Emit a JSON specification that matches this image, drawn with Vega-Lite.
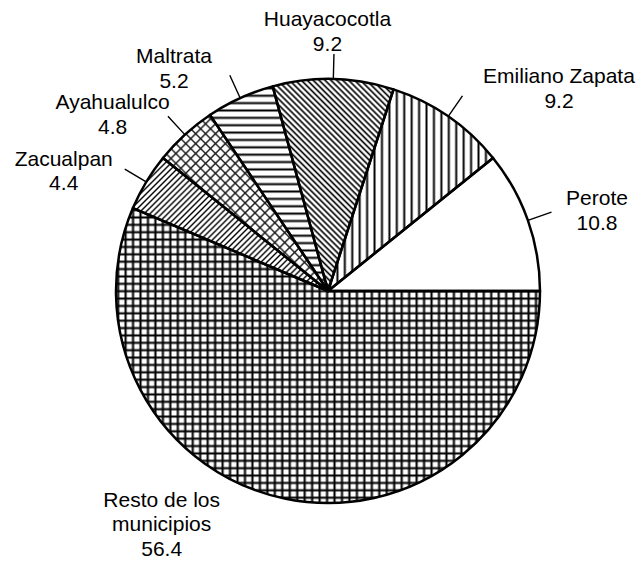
{
"$schema": "https://vega.github.io/schema/vega-lite/v6.json",
"width": 626, "height": 546,
"autosize": {"type": "none"},
"padding": {"left": 15, "top": 18, "right": 0, "bottom": 0},
"background": "white",
"config": {"view": {"stroke": null}},
"data": {"values": [
{"municipio": "Perote", "porcentaje": 10.8, "orden": 1, "etiqueta": "Perote\n10.8"},
{"municipio": "Emiliano Zapata", "porcentaje": 9.2, "orden": 2, "etiqueta": "Emiliano Zapata\n9.2"},
{"municipio": "Huayacocotla", "porcentaje": 9.2, "orden": 3, "etiqueta": "Huayacocotla\n9.2"},
{"municipio": "Maltrata", "porcentaje": 5.2, "orden": 4, "etiqueta": "Maltrata\n5.2"},
{"municipio": "Ayahualulco", "porcentaje": 4.8, "orden": 5, "etiqueta": "Ayahualulco\n4.8"},
{"municipio": "Zacualpan", "porcentaje": 4.4, "orden": 6, "etiqueta": "Zacualpan\n4.4"},
{"municipio": "Resto de los municipios", "porcentaje": 56.4, "orden": 7, "etiqueta": "Resto de los\nmunicipios\n56.4"}
]},
"encoding": {
"theta": {"field": "porcentaje", "type": "quantitative", "stack": true, "scale": {"range": [7.853981634, 1.570796327]}},
"order": {"field": "orden", "type": "quantitative"}
},
"layer": [
{"mark": {"type": "arc", "outerRadius": 212},
"encoding": {"fill": {"condition": [
{"test": "datum.municipio === 'Emiliano Zapata'", "value": {"gradient": "linear", "x1": 0, "y1": 0, "x2": 1, "y2": 0, "stops": [
{"offset":0,"color":"#fff"},{"offset":0.012,"color":"#000"},{"offset":0.024,"color":"#fff"},{"offset":0.045,"color":"#fff"},{"offset":0.057,"color":"#000"},{"offset":0.069,"color":"#fff"},{"offset":0.09,"color":"#fff"},{"offset":0.102,"color":"#000"},{"offset":0.114,"color":"#fff"},{"offset":0.135,"color":"#fff"},{"offset":0.147,"color":"#000"},{"offset":0.159,"color":"#fff"},{"offset":0.18,"color":"#fff"},{"offset":0.192,"color":"#000"},{"offset":0.204,"color":"#fff"},{"offset":0.225,"color":"#fff"},{"offset":0.237,"color":"#000"},{"offset":0.249,"color":"#fff"},{"offset":0.27,"color":"#fff"},{"offset":0.282,"color":"#000"},{"offset":0.294,"color":"#fff"},{"offset":0.315,"color":"#fff"},{"offset":0.327,"color":"#000"},{"offset":0.339,"color":"#fff"},{"offset":0.36,"color":"#fff"},{"offset":0.372,"color":"#000"},{"offset":0.384,"color":"#fff"},{"offset":0.405,"color":"#fff"},{"offset":0.417,"color":"#000"},{"offset":0.429,"color":"#fff"},{"offset":0.45,"color":"#fff"},{"offset":0.462,"color":"#000"},{"offset":0.474,"color":"#fff"},{"offset":0.495,"color":"#fff"},{"offset":0.507,"color":"#000"},{"offset":0.519,"color":"#fff"},{"offset":0.54,"color":"#fff"},{"offset":0.552,"color":"#000"},{"offset":0.564,"color":"#fff"},{"offset":0.585,"color":"#fff"},{"offset":0.597,"color":"#000"},{"offset":0.609,"color":"#fff"},{"offset":0.63,"color":"#fff"},{"offset":0.642,"color":"#000"},{"offset":0.654,"color":"#fff"},{"offset":0.675,"color":"#fff"},{"offset":0.687,"color":"#000"},{"offset":0.699,"color":"#fff"},{"offset":0.72,"color":"#fff"},{"offset":0.732,"color":"#000"},{"offset":0.744,"color":"#fff"},{"offset":0.765,"color":"#fff"},{"offset":0.777,"color":"#000"},{"offset":0.789,"color":"#fff"},{"offset":0.81,"color":"#fff"},{"offset":0.822,"color":"#000"},{"offset":0.834,"color":"#fff"},{"offset":0.855,"color":"#fff"},{"offset":0.867,"color":"#000"},{"offset":0.879,"color":"#fff"},{"offset":0.9,"color":"#fff"},{"offset":0.912,"color":"#000"},{"offset":0.924,"color":"#fff"},{"offset":0.945,"color":"#fff"},{"offset":0.957,"color":"#000"},{"offset":0.969,"color":"#fff"}]}},
{"test": "datum.municipio === 'Huayacocotla'", "value": {"gradient": "linear", "x1": 0, "y1": 1, "x2": 0.6762, "y2": -0.1848, "stops": [
{"offset":0,"color":"#fff"},{"offset":0.007,"color":"#000"},{"offset":0.014,"color":"#fff"},{"offset":0.0178,"color":"#fff"},{"offset":0.0248,"color":"#000"},{"offset":0.0318,"color":"#fff"},{"offset":0.0356,"color":"#fff"},{"offset":0.0426,"color":"#000"},{"offset":0.0496,"color":"#fff"},{"offset":0.0534,"color":"#fff"},{"offset":0.0604,"color":"#000"},{"offset":0.0674,"color":"#fff"},{"offset":0.0712,"color":"#fff"},{"offset":0.0782,"color":"#000"},{"offset":0.0852,"color":"#fff"},{"offset":0.089,"color":"#fff"},{"offset":0.096,"color":"#000"},{"offset":0.103,"color":"#fff"},{"offset":0.1068,"color":"#fff"},{"offset":0.1138,"color":"#000"},{"offset":0.1208,"color":"#fff"},{"offset":0.1246,"color":"#fff"},{"offset":0.1316,"color":"#000"},{"offset":0.1386,"color":"#fff"},{"offset":0.1424,"color":"#fff"},{"offset":0.1494,"color":"#000"},{"offset":0.1564,"color":"#fff"},{"offset":0.1602,"color":"#fff"},{"offset":0.1672,"color":"#000"},{"offset":0.1742,"color":"#fff"},{"offset":0.178,"color":"#fff"},{"offset":0.185,"color":"#000"},{"offset":0.192,"color":"#fff"},{"offset":0.1958,"color":"#fff"},{"offset":0.2028,"color":"#000"},{"offset":0.2098,"color":"#fff"},{"offset":0.2136,"color":"#fff"},{"offset":0.2206,"color":"#000"},{"offset":0.2276,"color":"#fff"},{"offset":0.2314,"color":"#fff"},{"offset":0.2384,"color":"#000"},{"offset":0.2454,"color":"#fff"},{"offset":0.2492,"color":"#fff"},{"offset":0.2562,"color":"#000"},{"offset":0.2632,"color":"#fff"},{"offset":0.267,"color":"#fff"},{"offset":0.274,"color":"#000"},{"offset":0.281,"color":"#fff"},{"offset":0.2848,"color":"#fff"},{"offset":0.2918,"color":"#000"},{"offset":0.2988,"color":"#fff"},{"offset":0.3026,"color":"#fff"},{"offset":0.3096,"color":"#000"},{"offset":0.3166,"color":"#fff"},{"offset":0.3204,"color":"#fff"},{"offset":0.3274,"color":"#000"},{"offset":0.3344,"color":"#fff"},{"offset":0.3382,"color":"#fff"},{"offset":0.3452,"color":"#000"},{"offset":0.3522,"color":"#fff"},{"offset":0.356,"color":"#fff"},{"offset":0.363,"color":"#000"},{"offset":0.37,"color":"#fff"},{"offset":0.3738,"color":"#fff"},{"offset":0.3808,"color":"#000"},{"offset":0.3878,"color":"#fff"},{"offset":0.3916,"color":"#fff"},{"offset":0.3986,"color":"#000"},{"offset":0.4056,"color":"#fff"},{"offset":0.4094,"color":"#fff"},{"offset":0.4164,"color":"#000"},{"offset":0.4234,"color":"#fff"},{"offset":0.4272,"color":"#fff"},{"offset":0.4342,"color":"#000"},{"offset":0.4412,"color":"#fff"},{"offset":0.445,"color":"#fff"},{"offset":0.452,"color":"#000"},{"offset":0.459,"color":"#fff"},{"offset":0.4628,"color":"#fff"},{"offset":0.4698,"color":"#000"},{"offset":0.4768,"color":"#fff"},{"offset":0.4806,"color":"#fff"},{"offset":0.4876,"color":"#000"},{"offset":0.4946,"color":"#fff"},{"offset":0.4984,"color":"#fff"},{"offset":0.5054,"color":"#000"},{"offset":0.5124,"color":"#fff"},{"offset":0.5162,"color":"#fff"},{"offset":0.5232,"color":"#000"},{"offset":0.5302,"color":"#fff"},{"offset":0.534,"color":"#fff"},{"offset":0.541,"color":"#000"},{"offset":0.548,"color":"#fff"},{"offset":0.5518,"color":"#fff"},{"offset":0.5588,"color":"#000"},{"offset":0.5658,"color":"#fff"},{"offset":0.5696,"color":"#fff"},{"offset":0.5766,"color":"#000"},{"offset":0.5836,"color":"#fff"},{"offset":0.5874,"color":"#fff"},{"offset":0.5944,"color":"#000"},{"offset":0.6014,"color":"#fff"},{"offset":0.6052,"color":"#fff"},{"offset":0.6122,"color":"#000"},{"offset":0.6192,"color":"#fff"},{"offset":0.623,"color":"#fff"},{"offset":0.63,"color":"#000"},{"offset":0.637,"color":"#fff"},{"offset":0.6408,"color":"#fff"},{"offset":0.6478,"color":"#000"},{"offset":0.6548,"color":"#fff"},{"offset":0.6586,"color":"#fff"},{"offset":0.6656,"color":"#000"},{"offset":0.6726,"color":"#fff"},{"offset":0.6764,"color":"#fff"},{"offset":0.6834,"color":"#000"},{"offset":0.6904,"color":"#fff"},{"offset":0.6942,"color":"#fff"},{"offset":0.7012,"color":"#000"},{"offset":0.7082,"color":"#fff"},{"offset":0.712,"color":"#fff"},{"offset":0.719,"color":"#000"},{"offset":0.726,"color":"#fff"},{"offset":0.7298,"color":"#fff"},{"offset":0.7368,"color":"#000"},{"offset":0.7438,"color":"#fff"},{"offset":0.7476,"color":"#fff"},{"offset":0.7546,"color":"#000"},{"offset":0.7616,"color":"#fff"},{"offset":0.7654,"color":"#fff"},{"offset":0.7724,"color":"#000"},{"offset":0.7794,"color":"#fff"},{"offset":0.7832,"color":"#fff"},{"offset":0.7902,"color":"#000"},{"offset":0.7972,"color":"#fff"},{"offset":0.801,"color":"#fff"},{"offset":0.808,"color":"#000"},{"offset":0.815,"color":"#fff"},{"offset":0.8188,"color":"#fff"},{"offset":0.8258,"color":"#000"},{"offset":0.8328,"color":"#fff"},{"offset":0.8366,"color":"#fff"},{"offset":0.8436,"color":"#000"},{"offset":0.8506,"color":"#fff"},{"offset":0.8544,"color":"#fff"},{"offset":0.8614,"color":"#000"},{"offset":0.8684,"color":"#fff"},{"offset":0.8722,"color":"#fff"},{"offset":0.8792,"color":"#000"},{"offset":0.8862,"color":"#fff"},{"offset":0.89,"color":"#fff"},{"offset":0.897,"color":"#000"},{"offset":0.904,"color":"#fff"},{"offset":0.9078,"color":"#fff"},{"offset":0.9148,"color":"#000"},{"offset":0.9218,"color":"#fff"},{"offset":0.9256,"color":"#fff"},{"offset":0.9326,"color":"#000"},{"offset":0.9396,"color":"#fff"},{"offset":0.9434,"color":"#fff"},{"offset":0.9504,"color":"#000"},{"offset":0.9574,"color":"#fff"},{"offset":0.9612,"color":"#fff"},{"offset":0.9682,"color":"#000"},{"offset":0.9752,"color":"#fff"},{"offset":0.979,"color":"#fff"},{"offset":0.986,"color":"#000"},{"offset":0.993,"color":"#fff"}]}},
{"test": "datum.municipio === 'Maltrata'", "value": {"gradient": "linear", "x1": 0, "y1": 0, "x2": 0, "y2": 1, "stops": [
{"offset":0,"color":"#fff"},{"offset":0.01,"color":"#000"},{"offset":0.02,"color":"#fff"},{"offset":0.036,"color":"#fff"},{"offset":0.046,"color":"#000"},{"offset":0.056,"color":"#fff"},{"offset":0.072,"color":"#fff"},{"offset":0.082,"color":"#000"},{"offset":0.092,"color":"#fff"},{"offset":0.108,"color":"#fff"},{"offset":0.118,"color":"#000"},{"offset":0.128,"color":"#fff"},{"offset":0.144,"color":"#fff"},{"offset":0.154,"color":"#000"},{"offset":0.164,"color":"#fff"},{"offset":0.18,"color":"#fff"},{"offset":0.19,"color":"#000"},{"offset":0.2,"color":"#fff"},{"offset":0.216,"color":"#fff"},{"offset":0.226,"color":"#000"},{"offset":0.236,"color":"#fff"},{"offset":0.252,"color":"#fff"},{"offset":0.262,"color":"#000"},{"offset":0.272,"color":"#fff"},{"offset":0.288,"color":"#fff"},{"offset":0.298,"color":"#000"},{"offset":0.308,"color":"#fff"},{"offset":0.324,"color":"#fff"},{"offset":0.334,"color":"#000"},{"offset":0.344,"color":"#fff"},{"offset":0.36,"color":"#fff"},{"offset":0.37,"color":"#000"},{"offset":0.38,"color":"#fff"},{"offset":0.396,"color":"#fff"},{"offset":0.406,"color":"#000"},{"offset":0.416,"color":"#fff"},{"offset":0.432,"color":"#fff"},{"offset":0.442,"color":"#000"},{"offset":0.452,"color":"#fff"},{"offset":0.468,"color":"#fff"},{"offset":0.478,"color":"#000"},{"offset":0.488,"color":"#fff"},{"offset":0.504,"color":"#fff"},{"offset":0.514,"color":"#000"},{"offset":0.524,"color":"#fff"},{"offset":0.54,"color":"#fff"},{"offset":0.55,"color":"#000"},{"offset":0.56,"color":"#fff"},{"offset":0.576,"color":"#fff"},{"offset":0.586,"color":"#000"},{"offset":0.596,"color":"#fff"},{"offset":0.612,"color":"#fff"},{"offset":0.622,"color":"#000"},{"offset":0.632,"color":"#fff"},{"offset":0.648,"color":"#fff"},{"offset":0.658,"color":"#000"},{"offset":0.668,"color":"#fff"},{"offset":0.684,"color":"#fff"},{"offset":0.694,"color":"#000"},{"offset":0.704,"color":"#fff"},{"offset":0.72,"color":"#fff"},{"offset":0.73,"color":"#000"},{"offset":0.74,"color":"#fff"},{"offset":0.756,"color":"#fff"},{"offset":0.766,"color":"#000"},{"offset":0.776,"color":"#fff"},{"offset":0.792,"color":"#fff"},{"offset":0.802,"color":"#000"},{"offset":0.812,"color":"#fff"},{"offset":0.828,"color":"#fff"},{"offset":0.838,"color":"#000"},{"offset":0.848,"color":"#fff"},{"offset":0.864,"color":"#fff"},{"offset":0.874,"color":"#000"},{"offset":0.884,"color":"#fff"},{"offset":0.9,"color":"#fff"},{"offset":0.91,"color":"#000"},{"offset":0.92,"color":"#fff"},{"offset":0.936,"color":"#fff"},{"offset":0.946,"color":"#000"},{"offset":0.956,"color":"#fff"},{"offset":0.972,"color":"#fff"},{"offset":0.982,"color":"#000"},{"offset":0.992,"color":"#fff"}]}},
{"test": "datum.municipio === 'Ayahualulco'", "value": {"gradient": "linear", "x1": 0, "y1": 1, "x2": 0.9664, "y2": -0.0314, "stops": [
{"offset":0,"color":"#fff"},{"offset":0.006,"color":"#222"},{"offset":0.012,"color":"#fff"},{"offset":0.029,"color":"#fff"},{"offset":0.035,"color":"#222"},{"offset":0.041,"color":"#fff"},{"offset":0.058,"color":"#fff"},{"offset":0.064,"color":"#222"},{"offset":0.07,"color":"#fff"},{"offset":0.087,"color":"#fff"},{"offset":0.093,"color":"#222"},{"offset":0.099,"color":"#fff"},{"offset":0.116,"color":"#fff"},{"offset":0.122,"color":"#222"},{"offset":0.128,"color":"#fff"},{"offset":0.145,"color":"#fff"},{"offset":0.151,"color":"#222"},{"offset":0.157,"color":"#fff"},{"offset":0.174,"color":"#fff"},{"offset":0.18,"color":"#222"},{"offset":0.186,"color":"#fff"},{"offset":0.203,"color":"#fff"},{"offset":0.209,"color":"#222"},{"offset":0.215,"color":"#fff"},{"offset":0.232,"color":"#fff"},{"offset":0.238,"color":"#222"},{"offset":0.244,"color":"#fff"},{"offset":0.261,"color":"#fff"},{"offset":0.267,"color":"#222"},{"offset":0.273,"color":"#fff"},{"offset":0.29,"color":"#fff"},{"offset":0.296,"color":"#222"},{"offset":0.302,"color":"#fff"},{"offset":0.319,"color":"#fff"},{"offset":0.325,"color":"#222"},{"offset":0.331,"color":"#fff"},{"offset":0.348,"color":"#fff"},{"offset":0.354,"color":"#222"},{"offset":0.36,"color":"#fff"},{"offset":0.377,"color":"#fff"},{"offset":0.383,"color":"#222"},{"offset":0.389,"color":"#fff"},{"offset":0.406,"color":"#fff"},{"offset":0.412,"color":"#222"},{"offset":0.418,"color":"#fff"},{"offset":0.435,"color":"#fff"},{"offset":0.441,"color":"#222"},{"offset":0.447,"color":"#fff"},{"offset":0.464,"color":"#fff"},{"offset":0.47,"color":"#222"},{"offset":0.476,"color":"#fff"},{"offset":0.493,"color":"#fff"},{"offset":0.499,"color":"#222"},{"offset":0.505,"color":"#fff"},{"offset":0.522,"color":"#fff"},{"offset":0.528,"color":"#222"},{"offset":0.534,"color":"#fff"},{"offset":0.551,"color":"#fff"},{"offset":0.557,"color":"#222"},{"offset":0.563,"color":"#fff"},{"offset":0.58,"color":"#fff"},{"offset":0.586,"color":"#222"},{"offset":0.592,"color":"#fff"},{"offset":0.609,"color":"#fff"},{"offset":0.615,"color":"#222"},{"offset":0.621,"color":"#fff"},{"offset":0.638,"color":"#fff"},{"offset":0.644,"color":"#222"},{"offset":0.65,"color":"#fff"},{"offset":0.667,"color":"#fff"},{"offset":0.673,"color":"#222"},{"offset":0.679,"color":"#fff"},{"offset":0.696,"color":"#fff"},{"offset":0.702,"color":"#222"},{"offset":0.708,"color":"#fff"},{"offset":0.725,"color":"#fff"},{"offset":0.731,"color":"#222"},{"offset":0.737,"color":"#fff"},{"offset":0.754,"color":"#fff"},{"offset":0.76,"color":"#222"},{"offset":0.766,"color":"#fff"},{"offset":0.783,"color":"#fff"},{"offset":0.789,"color":"#222"},{"offset":0.795,"color":"#fff"},{"offset":0.812,"color":"#fff"},{"offset":0.818,"color":"#222"},{"offset":0.824,"color":"#fff"},{"offset":0.841,"color":"#fff"},{"offset":0.847,"color":"#222"},{"offset":0.853,"color":"#fff"},{"offset":0.87,"color":"#fff"},{"offset":0.876,"color":"#222"},{"offset":0.882,"color":"#fff"},{"offset":0.899,"color":"#fff"},{"offset":0.905,"color":"#222"},{"offset":0.911,"color":"#fff"},{"offset":0.928,"color":"#fff"},{"offset":0.934,"color":"#222"},{"offset":0.94,"color":"#fff"},{"offset":0.957,"color":"#fff"},{"offset":0.963,"color":"#222"},{"offset":0.969,"color":"#fff"},{"offset":0.986,"color":"#fff"},{"offset":0.992,"color":"#222"},{"offset":0.998,"color":"#fff"}]}},
{"test": "datum.municipio === 'Zacualpan'", "value": {"gradient": "linear", "x1": 0, "y1": 0, "x2": 1.148, "y2": 0.7832, "stops": [
{"offset":0,"color":"#fff"},{"offset":0.006,"color":"#000"},{"offset":0.012,"color":"#fff"},{"offset":0.018,"color":"#fff"},{"offset":0.024,"color":"#000"},{"offset":0.03,"color":"#fff"},{"offset":0.036,"color":"#fff"},{"offset":0.042,"color":"#000"},{"offset":0.048,"color":"#fff"},{"offset":0.054,"color":"#fff"},{"offset":0.06,"color":"#000"},{"offset":0.066,"color":"#fff"},{"offset":0.072,"color":"#fff"},{"offset":0.078,"color":"#000"},{"offset":0.084,"color":"#fff"},{"offset":0.09,"color":"#fff"},{"offset":0.096,"color":"#000"},{"offset":0.102,"color":"#fff"},{"offset":0.108,"color":"#fff"},{"offset":0.114,"color":"#000"},{"offset":0.12,"color":"#fff"},{"offset":0.126,"color":"#fff"},{"offset":0.132,"color":"#000"},{"offset":0.138,"color":"#fff"},{"offset":0.144,"color":"#fff"},{"offset":0.15,"color":"#000"},{"offset":0.156,"color":"#fff"},{"offset":0.162,"color":"#fff"},{"offset":0.168,"color":"#000"},{"offset":0.174,"color":"#fff"},{"offset":0.18,"color":"#fff"},{"offset":0.186,"color":"#000"},{"offset":0.192,"color":"#fff"},{"offset":0.198,"color":"#fff"},{"offset":0.204,"color":"#000"},{"offset":0.21,"color":"#fff"},{"offset":0.216,"color":"#fff"},{"offset":0.222,"color":"#000"},{"offset":0.228,"color":"#fff"},{"offset":0.234,"color":"#fff"},{"offset":0.24,"color":"#000"},{"offset":0.246,"color":"#fff"},{"offset":0.252,"color":"#fff"},{"offset":0.258,"color":"#000"},{"offset":0.264,"color":"#fff"},{"offset":0.27,"color":"#fff"},{"offset":0.276,"color":"#000"},{"offset":0.282,"color":"#fff"},{"offset":0.288,"color":"#fff"},{"offset":0.294,"color":"#000"},{"offset":0.3,"color":"#fff"},{"offset":0.306,"color":"#fff"},{"offset":0.312,"color":"#000"},{"offset":0.318,"color":"#fff"},{"offset":0.324,"color":"#fff"},{"offset":0.33,"color":"#000"},{"offset":0.336,"color":"#fff"},{"offset":0.342,"color":"#fff"},{"offset":0.348,"color":"#000"},{"offset":0.354,"color":"#fff"},{"offset":0.36,"color":"#fff"},{"offset":0.366,"color":"#000"},{"offset":0.372,"color":"#fff"},{"offset":0.378,"color":"#fff"},{"offset":0.384,"color":"#000"},{"offset":0.39,"color":"#fff"},{"offset":0.396,"color":"#fff"},{"offset":0.402,"color":"#000"},{"offset":0.408,"color":"#fff"},{"offset":0.414,"color":"#fff"},{"offset":0.42,"color":"#000"},{"offset":0.426,"color":"#fff"},{"offset":0.432,"color":"#fff"},{"offset":0.438,"color":"#000"},{"offset":0.444,"color":"#fff"},{"offset":0.45,"color":"#fff"},{"offset":0.456,"color":"#000"},{"offset":0.462,"color":"#fff"},{"offset":0.468,"color":"#fff"},{"offset":0.474,"color":"#000"},{"offset":0.48,"color":"#fff"},{"offset":0.486,"color":"#fff"},{"offset":0.492,"color":"#000"},{"offset":0.498,"color":"#fff"},{"offset":0.504,"color":"#fff"},{"offset":0.51,"color":"#000"},{"offset":0.516,"color":"#fff"},{"offset":0.522,"color":"#fff"},{"offset":0.528,"color":"#000"},{"offset":0.534,"color":"#fff"},{"offset":0.54,"color":"#fff"},{"offset":0.546,"color":"#000"},{"offset":0.552,"color":"#fff"},{"offset":0.558,"color":"#fff"},{"offset":0.564,"color":"#000"},{"offset":0.57,"color":"#fff"},{"offset":0.576,"color":"#fff"},{"offset":0.582,"color":"#000"},{"offset":0.588,"color":"#fff"},{"offset":0.594,"color":"#fff"},{"offset":0.6,"color":"#000"},{"offset":0.606,"color":"#fff"},{"offset":0.612,"color":"#fff"},{"offset":0.618,"color":"#000"},{"offset":0.624,"color":"#fff"},{"offset":0.63,"color":"#fff"},{"offset":0.636,"color":"#000"},{"offset":0.642,"color":"#fff"},{"offset":0.648,"color":"#fff"},{"offset":0.654,"color":"#000"},{"offset":0.66,"color":"#fff"},{"offset":0.666,"color":"#fff"},{"offset":0.672,"color":"#000"},{"offset":0.678,"color":"#fff"},{"offset":0.684,"color":"#fff"},{"offset":0.69,"color":"#000"},{"offset":0.696,"color":"#fff"},{"offset":0.702,"color":"#fff"},{"offset":0.708,"color":"#000"},{"offset":0.714,"color":"#fff"},{"offset":0.72,"color":"#fff"},{"offset":0.726,"color":"#000"},{"offset":0.732,"color":"#fff"},{"offset":0.738,"color":"#fff"},{"offset":0.744,"color":"#000"},{"offset":0.75,"color":"#fff"},{"offset":0.756,"color":"#fff"},{"offset":0.762,"color":"#000"},{"offset":0.768,"color":"#fff"},{"offset":0.774,"color":"#fff"},{"offset":0.78,"color":"#000"},{"offset":0.786,"color":"#fff"},{"offset":0.792,"color":"#fff"},{"offset":0.798,"color":"#000"},{"offset":0.804,"color":"#fff"},{"offset":0.81,"color":"#fff"},{"offset":0.816,"color":"#000"},{"offset":0.822,"color":"#fff"},{"offset":0.828,"color":"#fff"},{"offset":0.834,"color":"#000"},{"offset":0.84,"color":"#fff"},{"offset":0.846,"color":"#fff"},{"offset":0.852,"color":"#000"},{"offset":0.858,"color":"#fff"},{"offset":0.864,"color":"#fff"},{"offset":0.87,"color":"#000"},{"offset":0.876,"color":"#fff"},{"offset":0.882,"color":"#fff"},{"offset":0.888,"color":"#000"},{"offset":0.894,"color":"#fff"},{"offset":0.9,"color":"#fff"},{"offset":0.906,"color":"#000"},{"offset":0.912,"color":"#fff"},{"offset":0.918,"color":"#fff"},{"offset":0.924,"color":"#000"},{"offset":0.93,"color":"#fff"},{"offset":0.936,"color":"#fff"},{"offset":0.942,"color":"#000"},{"offset":0.948,"color":"#fff"},{"offset":0.954,"color":"#fff"},{"offset":0.96,"color":"#000"},{"offset":0.966,"color":"#fff"},{"offset":0.972,"color":"#fff"},{"offset":0.978,"color":"#000"},{"offset":0.984,"color":"#fff"}]}},
{"test": "datum.municipio === 'Resto de los municipios'", "value": {"gradient": "linear", "x1": 0, "y1": 0, "x2": 1, "y2": 0, "stops": [
{"offset":0,"color":"#fff"},{"offset":0.005,"color":"#000"},{"offset":0.01,"color":"#fff"},{"offset":0.0176,"color":"#fff"},{"offset":0.0226,"color":"#000"},{"offset":0.0276,"color":"#fff"},{"offset":0.0352,"color":"#fff"},{"offset":0.0402,"color":"#000"},{"offset":0.0452,"color":"#fff"},{"offset":0.0528,"color":"#fff"},{"offset":0.0578,"color":"#000"},{"offset":0.0628,"color":"#fff"},{"offset":0.0704,"color":"#fff"},{"offset":0.0754,"color":"#000"},{"offset":0.0804,"color":"#fff"},{"offset":0.088,"color":"#fff"},{"offset":0.093,"color":"#000"},{"offset":0.098,"color":"#fff"},{"offset":0.1056,"color":"#fff"},{"offset":0.1106,"color":"#000"},{"offset":0.1156,"color":"#fff"},{"offset":0.1232,"color":"#fff"},{"offset":0.1282,"color":"#000"},{"offset":0.1332,"color":"#fff"},{"offset":0.1408,"color":"#fff"},{"offset":0.1458,"color":"#000"},{"offset":0.1508,"color":"#fff"},{"offset":0.1584,"color":"#fff"},{"offset":0.1634,"color":"#000"},{"offset":0.1684,"color":"#fff"},{"offset":0.176,"color":"#fff"},{"offset":0.181,"color":"#000"},{"offset":0.186,"color":"#fff"},{"offset":0.1936,"color":"#fff"},{"offset":0.1986,"color":"#000"},{"offset":0.2036,"color":"#fff"},{"offset":0.2112,"color":"#fff"},{"offset":0.2162,"color":"#000"},{"offset":0.2212,"color":"#fff"},{"offset":0.2288,"color":"#fff"},{"offset":0.2338,"color":"#000"},{"offset":0.2388,"color":"#fff"},{"offset":0.2464,"color":"#fff"},{"offset":0.2514,"color":"#000"},{"offset":0.2564,"color":"#fff"},{"offset":0.264,"color":"#fff"},{"offset":0.269,"color":"#000"},{"offset":0.274,"color":"#fff"},{"offset":0.2816,"color":"#fff"},{"offset":0.2866,"color":"#000"},{"offset":0.2916,"color":"#fff"},{"offset":0.2992,"color":"#fff"},{"offset":0.3042,"color":"#000"},{"offset":0.3092,"color":"#fff"},{"offset":0.3168,"color":"#fff"},{"offset":0.3218,"color":"#000"},{"offset":0.3268,"color":"#fff"},{"offset":0.3344,"color":"#fff"},{"offset":0.3394,"color":"#000"},{"offset":0.3444,"color":"#fff"},{"offset":0.352,"color":"#fff"},{"offset":0.357,"color":"#000"},{"offset":0.362,"color":"#fff"},{"offset":0.3696,"color":"#fff"},{"offset":0.3746,"color":"#000"},{"offset":0.3796,"color":"#fff"},{"offset":0.3872,"color":"#fff"},{"offset":0.3922,"color":"#000"},{"offset":0.3972,"color":"#fff"},{"offset":0.4048,"color":"#fff"},{"offset":0.4098,"color":"#000"},{"offset":0.4148,"color":"#fff"},{"offset":0.4224,"color":"#fff"},{"offset":0.4274,"color":"#000"},{"offset":0.4324,"color":"#fff"},{"offset":0.44,"color":"#fff"},{"offset":0.445,"color":"#000"},{"offset":0.45,"color":"#fff"},{"offset":0.4576,"color":"#fff"},{"offset":0.4626,"color":"#000"},{"offset":0.4676,"color":"#fff"},{"offset":0.4752,"color":"#fff"},{"offset":0.4802,"color":"#000"},{"offset":0.4852,"color":"#fff"},{"offset":0.4928,"color":"#fff"},{"offset":0.4978,"color":"#000"},{"offset":0.5028,"color":"#fff"},{"offset":0.5104,"color":"#fff"},{"offset":0.5154,"color":"#000"},{"offset":0.5204,"color":"#fff"},{"offset":0.528,"color":"#fff"},{"offset":0.533,"color":"#000"},{"offset":0.538,"color":"#fff"},{"offset":0.5456,"color":"#fff"},{"offset":0.5506,"color":"#000"},{"offset":0.5556,"color":"#fff"},{"offset":0.5632,"color":"#fff"},{"offset":0.5682,"color":"#000"},{"offset":0.5732,"color":"#fff"},{"offset":0.5808,"color":"#fff"},{"offset":0.5858,"color":"#000"},{"offset":0.5908,"color":"#fff"},{"offset":0.5984,"color":"#fff"},{"offset":0.6034,"color":"#000"},{"offset":0.6084,"color":"#fff"},{"offset":0.616,"color":"#fff"},{"offset":0.621,"color":"#000"},{"offset":0.626,"color":"#fff"},{"offset":0.6336,"color":"#fff"},{"offset":0.6386,"color":"#000"},{"offset":0.6436,"color":"#fff"},{"offset":0.6512,"color":"#fff"},{"offset":0.6562,"color":"#000"},{"offset":0.6612,"color":"#fff"},{"offset":0.6688,"color":"#fff"},{"offset":0.6738,"color":"#000"},{"offset":0.6788,"color":"#fff"},{"offset":0.6864,"color":"#fff"},{"offset":0.6914,"color":"#000"},{"offset":0.6964,"color":"#fff"},{"offset":0.704,"color":"#fff"},{"offset":0.709,"color":"#000"},{"offset":0.714,"color":"#fff"},{"offset":0.7216,"color":"#fff"},{"offset":0.7266,"color":"#000"},{"offset":0.7316,"color":"#fff"},{"offset":0.7392,"color":"#fff"},{"offset":0.7442,"color":"#000"},{"offset":0.7492,"color":"#fff"},{"offset":0.7568,"color":"#fff"},{"offset":0.7618,"color":"#000"},{"offset":0.7668,"color":"#fff"},{"offset":0.7744,"color":"#fff"},{"offset":0.7794,"color":"#000"},{"offset":0.7844,"color":"#fff"},{"offset":0.792,"color":"#fff"},{"offset":0.797,"color":"#000"},{"offset":0.802,"color":"#fff"},{"offset":0.8096,"color":"#fff"},{"offset":0.8146,"color":"#000"},{"offset":0.8196,"color":"#fff"},{"offset":0.8272,"color":"#fff"},{"offset":0.8322,"color":"#000"},{"offset":0.8372,"color":"#fff"},{"offset":0.8448,"color":"#fff"},{"offset":0.8498,"color":"#000"},{"offset":0.8548,"color":"#fff"},{"offset":0.8624,"color":"#fff"},{"offset":0.8674,"color":"#000"},{"offset":0.8724,"color":"#fff"},{"offset":0.88,"color":"#fff"},{"offset":0.885,"color":"#000"},{"offset":0.89,"color":"#fff"},{"offset":0.8976,"color":"#fff"},{"offset":0.9026,"color":"#000"},{"offset":0.9076,"color":"#fff"},{"offset":0.9152,"color":"#fff"},{"offset":0.9202,"color":"#000"},{"offset":0.9252,"color":"#fff"},{"offset":0.9328,"color":"#fff"},{"offset":0.9378,"color":"#000"},{"offset":0.9428,"color":"#fff"},{"offset":0.9504,"color":"#fff"},{"offset":0.9554,"color":"#000"},{"offset":0.9604,"color":"#fff"},{"offset":0.968,"color":"#fff"},{"offset":0.973,"color":"#000"},{"offset":0.978,"color":"#fff"},{"offset":0.9856,"color":"#fff"},{"offset":0.9906,"color":"#000"},{"offset":0.9956,"color":"#fff"}]}}
], "value": "white"}}},
{"mark": {"type": "arc", "outerRadius": 212, "stroke": "black", "strokeWidth": 2.5, "strokeJoin": "round"},
"encoding": {"fill": {"condition": [
{"test": "datum.municipio === 'Ayahualulco'", "value": {"gradient": "linear", "x1": 0, "y1": 0, "x2": 0.9664, "y2": 1.0314, "stops": [
{"offset":0,"color":"rgba(0,0,0,0)"},{"offset":0.006,"color":"#222"},{"offset":0.012,"color":"rgba(0,0,0,0)"},{"offset":0.029,"color":"rgba(0,0,0,0)"},{"offset":0.035,"color":"#222"},{"offset":0.041,"color":"rgba(0,0,0,0)"},{"offset":0.058,"color":"rgba(0,0,0,0)"},{"offset":0.064,"color":"#222"},{"offset":0.07,"color":"rgba(0,0,0,0)"},{"offset":0.087,"color":"rgba(0,0,0,0)"},{"offset":0.093,"color":"#222"},{"offset":0.099,"color":"rgba(0,0,0,0)"},{"offset":0.116,"color":"rgba(0,0,0,0)"},{"offset":0.122,"color":"#222"},{"offset":0.128,"color":"rgba(0,0,0,0)"},{"offset":0.145,"color":"rgba(0,0,0,0)"},{"offset":0.151,"color":"#222"},{"offset":0.157,"color":"rgba(0,0,0,0)"},{"offset":0.174,"color":"rgba(0,0,0,0)"},{"offset":0.18,"color":"#222"},{"offset":0.186,"color":"rgba(0,0,0,0)"},{"offset":0.203,"color":"rgba(0,0,0,0)"},{"offset":0.209,"color":"#222"},{"offset":0.215,"color":"rgba(0,0,0,0)"},{"offset":0.232,"color":"rgba(0,0,0,0)"},{"offset":0.238,"color":"#222"},{"offset":0.244,"color":"rgba(0,0,0,0)"},{"offset":0.261,"color":"rgba(0,0,0,0)"},{"offset":0.267,"color":"#222"},{"offset":0.273,"color":"rgba(0,0,0,0)"},{"offset":0.29,"color":"rgba(0,0,0,0)"},{"offset":0.296,"color":"#222"},{"offset":0.302,"color":"rgba(0,0,0,0)"},{"offset":0.319,"color":"rgba(0,0,0,0)"},{"offset":0.325,"color":"#222"},{"offset":0.331,"color":"rgba(0,0,0,0)"},{"offset":0.348,"color":"rgba(0,0,0,0)"},{"offset":0.354,"color":"#222"},{"offset":0.36,"color":"rgba(0,0,0,0)"},{"offset":0.377,"color":"rgba(0,0,0,0)"},{"offset":0.383,"color":"#222"},{"offset":0.389,"color":"rgba(0,0,0,0)"},{"offset":0.406,"color":"rgba(0,0,0,0)"},{"offset":0.412,"color":"#222"},{"offset":0.418,"color":"rgba(0,0,0,0)"},{"offset":0.435,"color":"rgba(0,0,0,0)"},{"offset":0.441,"color":"#222"},{"offset":0.447,"color":"rgba(0,0,0,0)"},{"offset":0.464,"color":"rgba(0,0,0,0)"},{"offset":0.47,"color":"#222"},{"offset":0.476,"color":"rgba(0,0,0,0)"},{"offset":0.493,"color":"rgba(0,0,0,0)"},{"offset":0.499,"color":"#222"},{"offset":0.505,"color":"rgba(0,0,0,0)"},{"offset":0.522,"color":"rgba(0,0,0,0)"},{"offset":0.528,"color":"#222"},{"offset":0.534,"color":"rgba(0,0,0,0)"},{"offset":0.551,"color":"rgba(0,0,0,0)"},{"offset":0.557,"color":"#222"},{"offset":0.563,"color":"rgba(0,0,0,0)"},{"offset":0.58,"color":"rgba(0,0,0,0)"},{"offset":0.586,"color":"#222"},{"offset":0.592,"color":"rgba(0,0,0,0)"},{"offset":0.609,"color":"rgba(0,0,0,0)"},{"offset":0.615,"color":"#222"},{"offset":0.621,"color":"rgba(0,0,0,0)"},{"offset":0.638,"color":"rgba(0,0,0,0)"},{"offset":0.644,"color":"#222"},{"offset":0.65,"color":"rgba(0,0,0,0)"},{"offset":0.667,"color":"rgba(0,0,0,0)"},{"offset":0.673,"color":"#222"},{"offset":0.679,"color":"rgba(0,0,0,0)"},{"offset":0.696,"color":"rgba(0,0,0,0)"},{"offset":0.702,"color":"#222"},{"offset":0.708,"color":"rgba(0,0,0,0)"},{"offset":0.725,"color":"rgba(0,0,0,0)"},{"offset":0.731,"color":"#222"},{"offset":0.737,"color":"rgba(0,0,0,0)"},{"offset":0.754,"color":"rgba(0,0,0,0)"},{"offset":0.76,"color":"#222"},{"offset":0.766,"color":"rgba(0,0,0,0)"},{"offset":0.783,"color":"rgba(0,0,0,0)"},{"offset":0.789,"color":"#222"},{"offset":0.795,"color":"rgba(0,0,0,0)"},{"offset":0.812,"color":"rgba(0,0,0,0)"},{"offset":0.818,"color":"#222"},{"offset":0.824,"color":"rgba(0,0,0,0)"},{"offset":0.841,"color":"rgba(0,0,0,0)"},{"offset":0.847,"color":"#222"},{"offset":0.853,"color":"rgba(0,0,0,0)"},{"offset":0.87,"color":"rgba(0,0,0,0)"},{"offset":0.876,"color":"#222"},{"offset":0.882,"color":"rgba(0,0,0,0)"},{"offset":0.899,"color":"rgba(0,0,0,0)"},{"offset":0.905,"color":"#222"},{"offset":0.911,"color":"rgba(0,0,0,0)"},{"offset":0.928,"color":"rgba(0,0,0,0)"},{"offset":0.934,"color":"#222"},{"offset":0.94,"color":"rgba(0,0,0,0)"},{"offset":0.957,"color":"rgba(0,0,0,0)"},{"offset":0.963,"color":"#222"},{"offset":0.969,"color":"rgba(0,0,0,0)"},{"offset":0.986,"color":"rgba(0,0,0,0)"},{"offset":0.992,"color":"#222"},{"offset":0.998,"color":"rgba(0,0,0,0)"}]}},
{"test": "datum.municipio === 'Resto de los municipios'", "value": {"gradient": "linear", "x1": 0, "y1": 0, "x2": 0, "y2": 1, "stops": [
{"offset":0,"color":"rgba(0,0,0,0)"},{"offset":0.007,"color":"#000"},{"offset":0.014,"color":"rgba(0,0,0,0)"},{"offset":0.025,"color":"rgba(0,0,0,0)"},{"offset":0.032,"color":"#000"},{"offset":0.039,"color":"rgba(0,0,0,0)"},{"offset":0.05,"color":"rgba(0,0,0,0)"},{"offset":0.057,"color":"#000"},{"offset":0.064,"color":"rgba(0,0,0,0)"},{"offset":0.075,"color":"rgba(0,0,0,0)"},{"offset":0.082,"color":"#000"},{"offset":0.089,"color":"rgba(0,0,0,0)"},{"offset":0.1,"color":"rgba(0,0,0,0)"},{"offset":0.107,"color":"#000"},{"offset":0.114,"color":"rgba(0,0,0,0)"},{"offset":0.125,"color":"rgba(0,0,0,0)"},{"offset":0.132,"color":"#000"},{"offset":0.139,"color":"rgba(0,0,0,0)"},{"offset":0.15,"color":"rgba(0,0,0,0)"},{"offset":0.157,"color":"#000"},{"offset":0.164,"color":"rgba(0,0,0,0)"},{"offset":0.175,"color":"rgba(0,0,0,0)"},{"offset":0.182,"color":"#000"},{"offset":0.189,"color":"rgba(0,0,0,0)"},{"offset":0.2,"color":"rgba(0,0,0,0)"},{"offset":0.207,"color":"#000"},{"offset":0.214,"color":"rgba(0,0,0,0)"},{"offset":0.225,"color":"rgba(0,0,0,0)"},{"offset":0.232,"color":"#000"},{"offset":0.239,"color":"rgba(0,0,0,0)"},{"offset":0.25,"color":"rgba(0,0,0,0)"},{"offset":0.257,"color":"#000"},{"offset":0.264,"color":"rgba(0,0,0,0)"},{"offset":0.275,"color":"rgba(0,0,0,0)"},{"offset":0.282,"color":"#000"},{"offset":0.289,"color":"rgba(0,0,0,0)"},{"offset":0.3,"color":"rgba(0,0,0,0)"},{"offset":0.307,"color":"#000"},{"offset":0.314,"color":"rgba(0,0,0,0)"},{"offset":0.325,"color":"rgba(0,0,0,0)"},{"offset":0.332,"color":"#000"},{"offset":0.339,"color":"rgba(0,0,0,0)"},{"offset":0.35,"color":"rgba(0,0,0,0)"},{"offset":0.357,"color":"#000"},{"offset":0.364,"color":"rgba(0,0,0,0)"},{"offset":0.375,"color":"rgba(0,0,0,0)"},{"offset":0.382,"color":"#000"},{"offset":0.389,"color":"rgba(0,0,0,0)"},{"offset":0.4,"color":"rgba(0,0,0,0)"},{"offset":0.407,"color":"#000"},{"offset":0.414,"color":"rgba(0,0,0,0)"},{"offset":0.425,"color":"rgba(0,0,0,0)"},{"offset":0.432,"color":"#000"},{"offset":0.439,"color":"rgba(0,0,0,0)"},{"offset":0.45,"color":"rgba(0,0,0,0)"},{"offset":0.457,"color":"#000"},{"offset":0.464,"color":"rgba(0,0,0,0)"},{"offset":0.475,"color":"rgba(0,0,0,0)"},{"offset":0.482,"color":"#000"},{"offset":0.489,"color":"rgba(0,0,0,0)"},{"offset":0.5,"color":"rgba(0,0,0,0)"},{"offset":0.507,"color":"#000"},{"offset":0.514,"color":"rgba(0,0,0,0)"},{"offset":0.525,"color":"rgba(0,0,0,0)"},{"offset":0.532,"color":"#000"},{"offset":0.539,"color":"rgba(0,0,0,0)"},{"offset":0.55,"color":"rgba(0,0,0,0)"},{"offset":0.557,"color":"#000"},{"offset":0.564,"color":"rgba(0,0,0,0)"},{"offset":0.575,"color":"rgba(0,0,0,0)"},{"offset":0.582,"color":"#000"},{"offset":0.589,"color":"rgba(0,0,0,0)"},{"offset":0.6,"color":"rgba(0,0,0,0)"},{"offset":0.607,"color":"#000"},{"offset":0.614,"color":"rgba(0,0,0,0)"},{"offset":0.625,"color":"rgba(0,0,0,0)"},{"offset":0.632,"color":"#000"},{"offset":0.639,"color":"rgba(0,0,0,0)"},{"offset":0.65,"color":"rgba(0,0,0,0)"},{"offset":0.657,"color":"#000"},{"offset":0.664,"color":"rgba(0,0,0,0)"},{"offset":0.675,"color":"rgba(0,0,0,0)"},{"offset":0.682,"color":"#000"},{"offset":0.689,"color":"rgba(0,0,0,0)"},{"offset":0.7,"color":"rgba(0,0,0,0)"},{"offset":0.707,"color":"#000"},{"offset":0.714,"color":"rgba(0,0,0,0)"},{"offset":0.725,"color":"rgba(0,0,0,0)"},{"offset":0.732,"color":"#000"},{"offset":0.739,"color":"rgba(0,0,0,0)"},{"offset":0.75,"color":"rgba(0,0,0,0)"},{"offset":0.757,"color":"#000"},{"offset":0.764,"color":"rgba(0,0,0,0)"},{"offset":0.775,"color":"rgba(0,0,0,0)"},{"offset":0.782,"color":"#000"},{"offset":0.789,"color":"rgba(0,0,0,0)"},{"offset":0.8,"color":"rgba(0,0,0,0)"},{"offset":0.807,"color":"#000"},{"offset":0.814,"color":"rgba(0,0,0,0)"},{"offset":0.825,"color":"rgba(0,0,0,0)"},{"offset":0.832,"color":"#000"},{"offset":0.839,"color":"rgba(0,0,0,0)"},{"offset":0.85,"color":"rgba(0,0,0,0)"},{"offset":0.857,"color":"#000"},{"offset":0.864,"color":"rgba(0,0,0,0)"},{"offset":0.875,"color":"rgba(0,0,0,0)"},{"offset":0.882,"color":"#000"},{"offset":0.889,"color":"rgba(0,0,0,0)"},{"offset":0.9,"color":"rgba(0,0,0,0)"},{"offset":0.907,"color":"#000"},{"offset":0.914,"color":"rgba(0,0,0,0)"},{"offset":0.925,"color":"rgba(0,0,0,0)"},{"offset":0.932,"color":"#000"},{"offset":0.939,"color":"rgba(0,0,0,0)"},{"offset":0.95,"color":"rgba(0,0,0,0)"},{"offset":0.957,"color":"#000"},{"offset":0.964,"color":"rgba(0,0,0,0)"},{"offset":0.975,"color":"rgba(0,0,0,0)"},{"offset":0.982,"color":"#000"},{"offset":0.989,"color":"rgba(0,0,0,0)"}]}}
], "value": "transparent"}}},
{"mark": {"type": "arc", "innerRadius": 212, "outerRadius": 237, "padAngle": 3.1416, "strokeWidth": 1.4, "fill": "transparent"},
"encoding": {"stroke": {"condition": {"test": "datum.municipio === 'Resto de los municipios'", "value": "transparent"}, "value": "black"}}},
{"mark": {"type": "text", "radius": 245, "dx": 38, "dy": -4.5, "font": "Liberation Sans", "fontSize": 21, "lineHeight": 24.7, "lineBreak": "\n", "align": "center", "baseline": "alphabetic", "color": "black"},
"encoding": {"text": {"condition": {"test": "datum.municipio === 'Perote'", "field": "etiqueta", "type": "nominal"}, "value": ""}}},
{"mark": {"type": "text", "radius": 245, "dx": 92, "dy": -6, "font": "Liberation Sans", "fontSize": 21, "lineHeight": 24.7, "lineBreak": "\n", "align": "center", "baseline": "alphabetic", "color": "black"},
"encoding": {"text": {"condition": {"test": "datum.municipio === 'Emiliano Zapata'", "field": "etiqueta", "type": "nominal"}, "value": ""}}},
{"mark": {"type": "text", "radius": 245, "dx": -6.7, "dy": -20, "font": "Liberation Sans", "fontSize": 21, "lineHeight": 24.7, "lineBreak": "\n", "align": "center", "baseline": "alphabetic", "color": "black"},
"encoding": {"text": {"condition": {"test": "datum.municipio === 'Huayacocotla'", "field": "etiqueta", "type": "nominal"}, "value": ""}}},
{"mark": {"type": "text", "radius": 245, "dx": -52.5, "dy": -4.7, "font": "Liberation Sans", "fontSize": 21, "lineHeight": 24.7, "lineBreak": "\n", "align": "center", "baseline": "alphabetic", "color": "black"},
"encoding": {"text": {"condition": {"test": "datum.municipio === 'Maltrata'", "field": "etiqueta", "type": "nominal"}, "value": ""}}},
{"mark": {"type": "text", "radius": 245, "dx": -50, "dy": -1, "font": "Liberation Sans", "fontSize": 21, "lineHeight": 24.7, "lineBreak": "\n", "align": "center", "baseline": "alphabetic", "color": "black"},
"encoding": {"text": {"condition": {"test": "datum.municipio === 'Ayahualulco'", "field": "etiqueta", "type": "nominal"}, "value": ""}}},
{"mark": {"type": "text", "radius": 245, "dx": -54.2, "dy": 0.7, "font": "Liberation Sans", "fontSize": 21, "lineHeight": 24.7, "lineBreak": "\n", "align": "center", "baseline": "alphabetic", "color": "black"},
"encoding": {"text": {"condition": {"test": "datum.municipio === 'Zacualpan'", "field": "etiqueta", "type": "nominal"}, "value": ""}}},
{"mark": {"type": "text", "radius": 245, "dx": -117.4, "dy": -24.4, "font": "Liberation Sans", "fontSize": 21, "lineHeight": 24.7, "lineBreak": "\n", "align": "center", "baseline": "alphabetic", "color": "black"},
"encoding": {"text": {"condition": {"test": "datum.municipio === 'Resto de los municipios'", "field": "etiqueta", "type": "nominal"}, "value": ""}}}
]
}
